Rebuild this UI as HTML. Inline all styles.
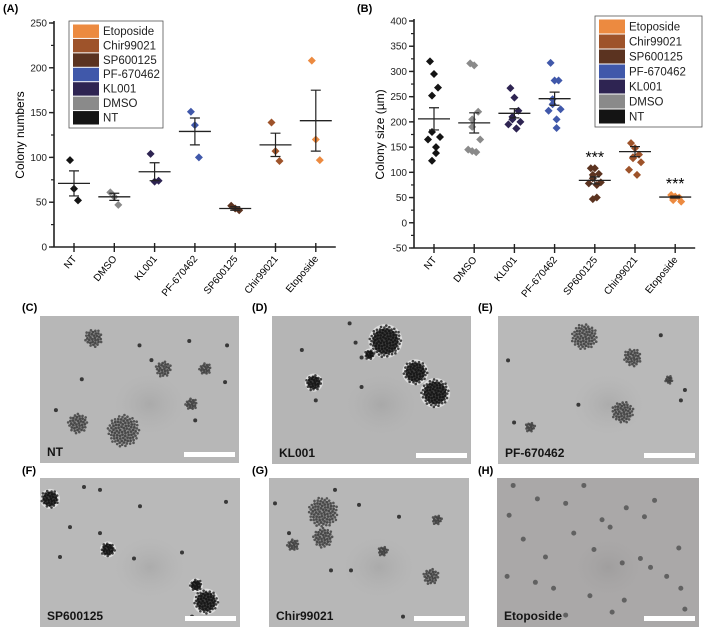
<!DOCTYPE html>
<html><head><meta charset="utf-8">
<style>
html,body{margin:0;padding:0;background:#fff;}
svg{display:block;font-family:"Liberation Sans",sans-serif;}
</style></head>
<body>
<svg id="fig" width="704" height="630" viewBox="0 0 704 630" xmlns="http://www.w3.org/2000/svg">
<defs>
<radialGradient id="halo"><stop offset="0" stop-color="#777" stop-opacity="0.5"/><stop offset="1" stop-color="#999" stop-opacity="0"/></radialGradient>
</defs>
<g id="chartA"></g>
<g id="chartB"></g>
<g id="micro"></g>
</svg>
<script>
const categories = ["NT","DMSO","KL001","PF-670462","SP600125","Chir99021","Etoposide"];
const colors = ["#141414","#8a8a8a","#2e2452","#4058aa","#5b3320","#9e532a","#ec8a40"];
const legendOrder = ["Etoposide","Chir99021","SP600125","PF-670462","KL001","DMSO","NT"];
const ticksA = [0,50,100,150,200,250];
const pointsA = [[97,65,52],[61,56,47],[104,73,74],[151,136,100],[46,43,41],[139,107,96],[208,120,97]];
const meansA = [71,56,84,129,43,114,141];
const semA = [14,4,10,15,2,13,34];
const ticksB = [-50,0,50,100,150,200,250,300,350,400];
const pointsB = [
 [320,295,268,252,180,170,165,150,138,123],
 [316,312,220,205,190,165,145,140,140,142],
 [267,248,222,210,205,200,195,187,187],
 [317,282,282,245,235,225,222,205,188],
 [108,108,97,95,88,80,78,75,50,47],
 [158,148,135,130,128,120,105,95],
 [55,52,50,48,45,42]];
const meansB = [206,198,217,246,84,141,51];
const semB = [22,20,9,13,7,10,2];
const starsB = ["","","","","***","","***"];

const NS="http://www.w3.org/2000/svg";
function mk(tag,attrs,parent,text){const e=document.createElementNS(NS,tag);for(const k in attrs)e.setAttribute(k,attrs[k]);if(text!==undefined)e.textContent=text;parent.appendChild(e);return e;}

function drawChart(g,cfg){
  const {x0,xStep,y0,yTop,vMin,vMax,ticks,minor,points,means,sem,label,panel,panelX,legend,stars,axisX}=cfg;
  const ys=v=>y0-(v-vMin)/(vMax-vMin)*(y0-yTop);
  const xs=i=>x0+i*xStep;
  const pl=mk('text',{x:panelX,y:12,'font-size':11,'font-weight':'bold'},g,panel);
  
  const ax=mk('line',{x1:axisX,y1:yTop-2,x2:axisX,y2:y0,stroke:'#222','stroke-width':1.6},g);
  
  const xa=mk('line',{x1:axisX,y1:y0,x2:xs(6)+20,y2:y0,stroke:'#222','stroke-width':1.6},g);
  
  for(let v=vMin;v<=vMax;v+=minor){mk('line',{x1:axisX-3,y1:ys(v),x2:axisX,y2:ys(v),stroke:'#222','stroke-width':1.2},g);}
  ticks.forEach(t=>{
    mk('line',{x1:axisX-5,y1:ys(t),x2:axisX,y2:ys(t),stroke:'#222','stroke-width':1.4},g);
    const tl=mk('text',{x:axisX-7,y:ys(t)+3.5,'font-size':10,'text-anchor':'end',fill:'#222'},g,String(t));
    
  });
  const yl=mk('text',{x:0,y:0,'font-size':12,'text-anchor':'middle',transform:`translate(${axisX-30},${(y0+yTop)/2}) rotate(-90)`},g,label);
  
  categories.forEach((c,i)=>{
    const x=xs(i);
    mk('line',{x1:x,y1:y0,x2:x,y2:y0+5,stroke:'#222','stroke-width':1.4},g);
    mk('line',{x1:x,y1:y0-4,x2:x,y2:y0,stroke:'#222','stroke-width':1.4},g);
    const t=mk('text',{x:0,y:0,'font-size':10,'text-anchor':'end',transform:`translate(${x+3},${y0+12}) rotate(-50)`},g,c);
    
    points[i].forEach((v,j)=>{
      const dx=((j%3)-1)*4+((j%2)?2:-2)*(j>2?1:0);
      const y=ys(v),px=x+dx;
      const d=mk('path',{d:`M${px},${y-4}L${px+4},${y}L${px},${y+4}L${px-4},${y}Z`,fill:colors[i]},g);
      
    });
    const m=mk('line',{x1:x-16,y1:ys(means[i]),x2:x+16,y2:ys(means[i]),stroke:'#222','stroke-width':1.3},g);
    
    const eb=mk('path',{d:`M${x},${ys(means[i]+sem[i])}V${ys(means[i]-sem[i])}M${x-5},${ys(means[i]+sem[i])}H${x+5}M${x-5},${ys(means[i]-sem[i])}H${x+5}`,stroke:'#222','stroke-width':1.2,fill:'none'},g);
    
    if(stars&&stars[i]){const s=mk('text',{x:x,y:ys(points[i][0])-6,'font-size':16,'text-anchor':'middle'},g,stars[i]);
      }
  });
  const lg=mk('g',{},g);
  
  mk('rect',{x:legend.x,y:legend.y,width:legend.w,height:legend.h,fill:'#fff',stroke:'#555','stroke-width':0.8},lg);
  const rh=(legend.h-6)/7;
  legendOrder.forEach((n,k)=>{
    const ci=categories.indexOf(n);
    const ry=legend.y+3+k*rh;
    const e=mk('g',{},lg);
    
    mk('rect',{x:legend.x+4,y:ry+0.5,width:26,height:rh-1,fill:colors[ci]},e);
    mk('text',{x:legend.x+34,y:ry+rh-3.5,'font-size':11.5,fill:'#222'},e,n);
  });
}
drawChart(document.getElementById('chartA'),{x0:74,xStep:40.3,y0:247,yTop:23,vMin:0,vMax:250,ticks:ticksA,minor:25,points:pointsA,means:meansA,sem:semA,label:'Colony numbers',panel:'(A)',panelX:3,legend:{x:69,y:21,w:94,h:107},axisX:54});
drawChart(document.getElementById('chartB'),{x0:434,xStep:40.2,y0:248,yTop:21,vMin:-50,vMax:400,ticks:ticksB,minor:25,points:pointsB,means:meansB,sem:semB,label:'Colony size (\u00b5m)',panel:'(B)',panelX:357,legend:{x:595,y:16,w:107,h:111},stars:starsB,axisX:414});

// micrographs
const panels=[
 {id:'C',name:'NT',x:40,y:316,w:199,h:147,bg:'#b7b7b7',lx:22,ly:311},
 {id:'D',name:'KL001',x:272,y:316,w:199,h:148,bg:'#b5b5b5',lx:252,ly:311},
 {id:'E',name:'PF-670462',x:498,y:316,w:201,h:148,bg:'#b9b9b9',lx:478,ly:311},
 {id:'F',name:'SP600125',x:40,y:478,w:200,h:149,bg:'#b9b9b9',lx:22,ly:474},
 {id:'G',name:'Chir99021',x:269,y:478,w:200,h:149,bg:'#b7b7b7',lx:252,ly:474},
 {id:'H',name:'Etoposide',x:497,y:478,w:202,h:149,bg:'#aaa8a8',lx:478,ly:474}];
const clusters={
 C:[[0.27,0.15,9],[0.62,0.36,8],[0.83,0.36,6],[0.42,0.78,16],[0.19,0.73,10],[0.76,0.6,6]],
 D:[[0.57,0.17,16],[0.72,0.38,12],[0.82,0.52,14],[0.21,0.45,8],[0.49,0.26,5]],
 E:[[0.43,0.14,13],[0.67,0.28,9],[0.62,0.65,11],[0.16,0.75,5],[0.85,0.43,4]],
 F:[[0.05,0.14,9],[0.83,0.83,12],[0.78,0.72,6],[0.34,0.48,7]],
 G:[[0.27,0.23,15],[0.27,0.4,10],[0.12,0.45,6],[0.81,0.66,8],[0.84,0.28,5],[0.57,0.49,5]],
 H:[]};
const dots={
 C:[[0.5,0.2],[0.56,0.3],[0.75,0.17],[0.94,0.2],[0.21,0.43],[0.08,0.64],[0.93,0.45],[0.78,0.71]],
 D:[[0.39,0.05],[0.42,0.18],[0.45,0.28],[0.45,0.48],[0.15,0.23],[0.22,0.57],[0.81,0.94]],
 E:[[0.05,0.3],[0.93,0.5],[0.91,0.57],[0.4,0.6],[0.08,0.72],[0.81,0.13]],
 F:[[0.22,0.06],[0.3,0.08],[0.5,0.19],[0.93,0.16],[0.15,0.33],[0.3,0.37],[0.1,0.53],[0.47,0.54],[0.71,0.5],[0.76,0.93]],
 G:[[0.03,0.17],[0.33,0.08],[0.45,0.18],[0.1,0.37],[0.65,0.26],[0.31,0.62],[0.41,0.62],[0.67,0.93]],
 H:[[0.08,0.05],[0.43,0.05],[0.2,0.14],[0.34,0.17],[0.64,0.2],[0.52,0.28],[0.06,0.25],[0.38,0.37],[0.73,0.26],[0.13,0.41],[0.48,0.48],[0.62,0.57],[0.24,0.53],[0.71,0.54],[0.9,0.47],[0.84,0.66],[0.05,0.66],[0.28,0.74],[0.19,0.7],[0.46,0.79],[0.63,0.82],[0.57,0.9],[0.91,0.74],[0.78,0.15],[0.93,0.88],[0.34,0.92],[0.56,0.33],[0.76,0.6]]};
const mg=document.getElementById('micro');
panels.forEach(p=>{
  const pl=mk('text',{x:p.lx,y:p.ly,'font-size':11,'font-weight':'bold'},mg,`(${p.id})`);
  
  const g=mk('g',{},mg);
  
  mk('rect',{x:p.x,y:p.y,width:p.w,height:p.h,fill:p.bg},g);
  mk('ellipse',{cx:p.x+p.w*0.55,cy:p.y+p.h*0.6,rx:35,ry:30,fill:'url(#halo)',opacity:0.4},g);
  clusters[p.id].forEach(c=>{
    const cx=p.x+c[0]*p.w,cy=p.y+c[1]*p.h,r=c[2];
    const dark=(p.id==='D'||p.id==='F');
    if(dark) mk('circle',{cx,cy,r:r+1,fill:'#eee',opacity:0.7},g);
    mk('circle',{cx,cy,r:r*0.8,fill:dark?'#2a2a2a':'#6a6a6a',opacity:dark?0.9:0.6},g);
    const n=Math.round(r*r*0.35)+6;
    for(let k=0;k<n;k++){const a=k*2.39996,rr=r*Math.sqrt((k+0.5)/n);
      mk('circle',{cx:cx+Math.cos(a)*rr,cy:cy+Math.sin(a)*rr,r:1.3,fill:dark?'#0c0c0c':'#333',opacity:0.75},g);}
  });
  dots[p.id].forEach(d=>{
    mk('circle',{cx:p.x+d[0]*p.w,cy:p.y+d[1]*p.h,r:p.id==='H'?2.5:2,fill:p.id==='H'?'#555':'#222',opacity:0.85},g);
  });
  const t=mk('text',{x:p.x+7,y:p.y+p.h-7,'font-size':12,'font-weight':'bold',fill:'#151515'},g,p.name);
  
  const sb=mk('rect',{x:p.x+p.w-55,y:p.y+p.h-11,width:51,height:5,fill:'#fff'},g);
  
});
</script>
</body></html>
